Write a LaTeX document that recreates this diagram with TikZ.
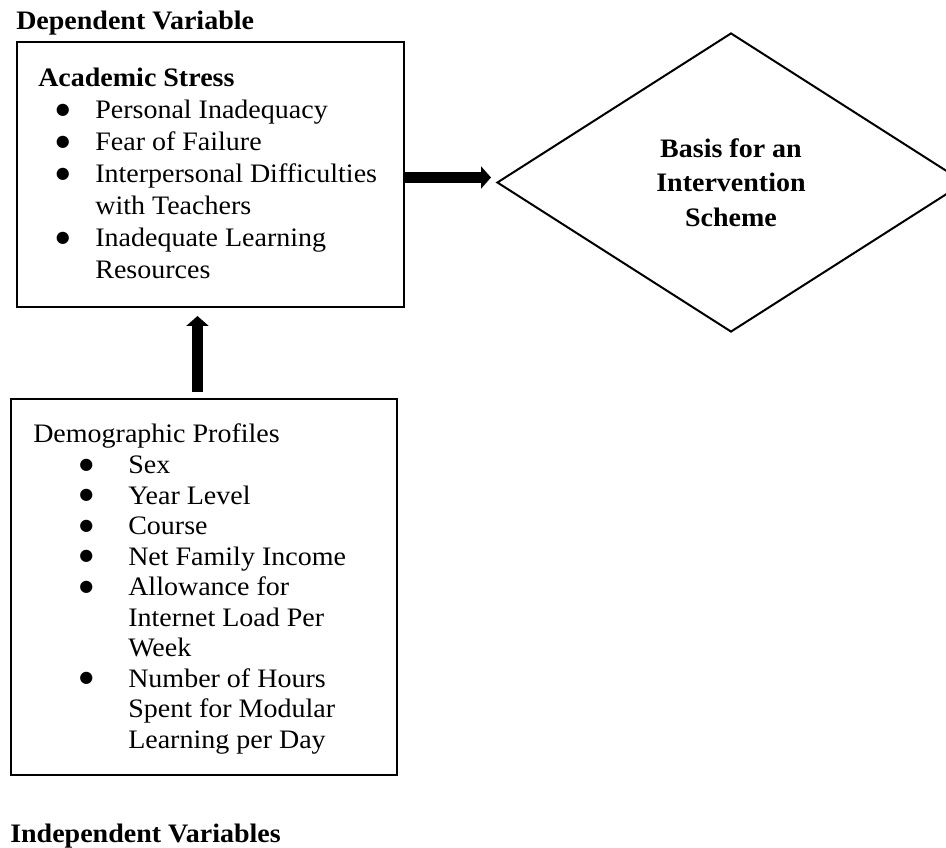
\documentclass[tikz,border=0pt]{standalone}
\usepackage{fontspec}
\setmainfont{Liberation Serif}[FakeStretch=1.05]
\newfontfamily\symfont{DejaVu Sans}
\usetikzlibrary{shapes.geometric,arrows.meta}
\newcommand{\bulletmark}{\makebox[0pt]{\raisebox{3.3pt}{\fontsize{12}{12}\selectfont\symfont ●}}}

\begin{document}
\begin{tikzpicture}[x=0.75pt,y=-0.75pt,
    frame/.style={draw, line width=1.5pt, rectangle, inner sep=0pt},
    bigarrow/.style={line width=8.25pt, -{Triangle[length=7.5pt,width=16.5pt]}},
    heading/.style={anchor=base west, inner sep=0pt, font=\bfseries\fontsize{20}{24}\selectfont}]
    \useasboundingbox (0,0) rectangle (946,848);
    \path (16,30) node[heading](deptitle){Dependent Variable};
    \path (210.5,174.5) node[frame, minimum width=290.25pt,
        minimum height=198.75pt](stress){};
    \path (38,87) node[anchor=base west, inner sep=0pt,
        font=\fontsize{20}{24}\selectfont](stresslist){%
        \begin{tabular}[t]{@{\hspace{18.4pt}}l@{\hspace{24.4pt}}l@{}}
        \multicolumn{2}{@{}l@{}}{\textbf{Academic Stress}}\\
        \bulletmark & Personal Inadequacy\\
        \bulletmark & Fear of Failure\\
        \bulletmark & Interpersonal Difficulties\\
        & with Teachers\\
        \bulletmark & Inadequate Learning\\
        & Resources
        \end{tabular}};
    \path (731,182.5) node[diamond, draw, line width=1.5pt, inner sep=0pt,
        minimum width=351pt, minimum height=224.25pt, align=center,
        font=\bfseries\fontsize{20}{26}\selectfont](basis){Basis for an\\Intervention\\Scheme};
    \path (204,587) node[frame, minimum width=289.5pt,
        minimum height=282pt](profiles){};
    \path (33,443) node[anchor=base west, inner sep=0pt,
        font=\fontsize{20}{22.9}\selectfont](profilelist){%
        \begin{tabular}[t]{@{\hspace{39.75pt}}l@{\hspace{31.5pt}}l@{}}
        \multicolumn{2}{@{}l@{}}{Demographic Profiles}\\
        \bulletmark & Sex\\
        \bulletmark & Year Level\\
        \bulletmark & Course\\
        \bulletmark & Net Family Income\\
        \bulletmark & Allowance for\\
        & Internet Load Per\\
        & Week\\
        \bulletmark & Number of Hours\\
        & Spent for Modular\\
        & Learning per Day
        \end{tabular}};
    \path (10,842) node[heading](indtitle){Independent Variables};
    \draw[bigarrow, shorten >=3.75pt] ([yshift=-2.25pt]stress.east)
        -- ([yshift=-2.25pt]stress.east -| basis.west);
    \draw[bigarrow, shorten <=4.5pt, shorten >=6pt] ([xshift=-4.9pt]profiles.north)
        -- ([xshift=-4.9pt]profiles.north |- stress.south);
\end{tikzpicture}
\end{document}
